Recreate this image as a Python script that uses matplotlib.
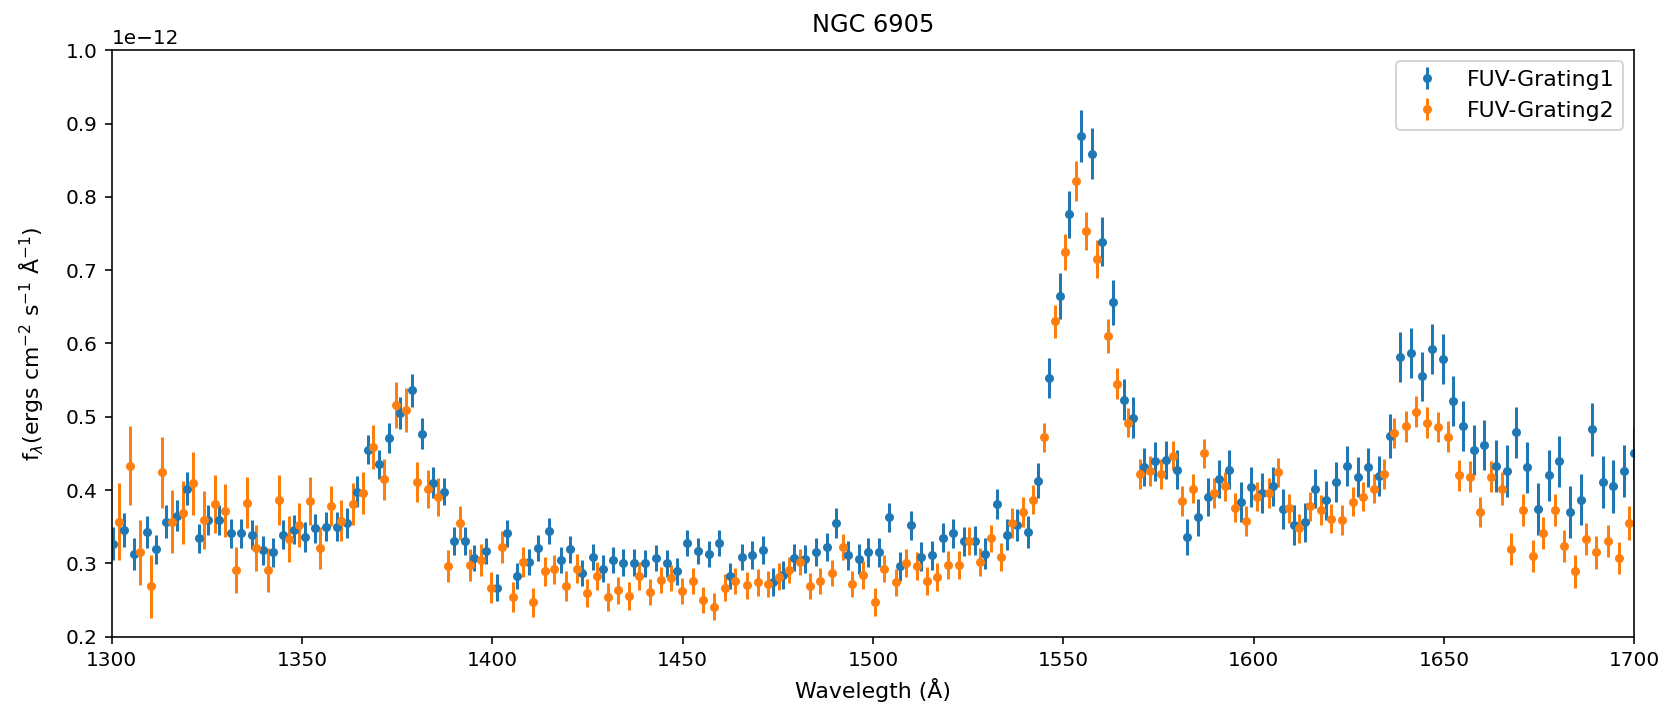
import numpy as np
import matplotlib
matplotlib.use('Agg')
import matplotlib.pyplot as plt

# FUV-Grating1 (flux in units of 1e-12)
g1_wave = [1300.3, 1303.2, 1305.9, 1309.2, 1311.6, 1314.3, 1317.1, 1319.9, 1322.8, 1325.4,
           1328.3, 1331.3, 1334.0, 1336.8, 1339.7, 1342.3, 1344.9, 1348.0, 1350.8, 1353.4,
           1356.2, 1359.1, 1361.9, 1364.5, 1367.4, 1370.3, 1372.9, 1375.7, 1378.8, 1381.5,
           1384.3, 1387.4, 1389.9, 1392.8, 1395.3, 1398.3, 1401.3, 1403.8, 1406.6, 1409.6,
           1412.1, 1415.0, 1418.0, 1420.4, 1423.5, 1426.4, 1429.0, 1431.8, 1434.4, 1437.3,
           1440.1, 1443.0, 1445.8, 1448.6, 1451.2, 1454.1, 1457.0, 1459.6, 1462.5, 1465.5,
           1468.2, 1471.0, 1473.7, 1476.3, 1479.3, 1482.2, 1485.0, 1487.9, 1490.3, 1493.3,
           1496.2, 1498.8, 1501.7, 1504.2, 1507.1, 1509.9, 1512.6, 1515.6, 1518.5, 1521.0,
           1523.9, 1526.8, 1529.5, 1532.5, 1535.3, 1537.9, 1540.8, 1543.3, 1546.3, 1549.2,
           1551.6, 1554.6, 1557.6, 1560.1, 1563.0, 1566.0, 1568.4, 1571.2, 1574.1, 1576.9,
           1579.8, 1582.4, 1585.3, 1588.1, 1590.8, 1593.6, 1596.6, 1599.3, 1602.2, 1605.0,
           1607.6, 1610.5, 1613.4, 1616.2, 1619.0, 1621.6, 1624.5, 1627.3, 1630.0, 1632.8,
           1635.7, 1638.5, 1641.3, 1644.2, 1646.8, 1649.7, 1652.5, 1655.1, 1658.0, 1660.6,
           1663.6, 1666.5, 1668.9, 1671.9, 1674.8, 1677.5, 1680.3, 1683.2, 1686.0, 1688.9,
           1691.8, 1694.4, 1697.2, 1699.8]
g1_flux = [0.327, 0.346, 0.313, 0.343, 0.319, 0.357, 0.365, 0.402, 0.334, 0.359,
           0.359, 0.341, 0.341, 0.339, 0.318, 0.315, 0.339, 0.346, 0.336, 0.348,
           0.350, 0.350, 0.355, 0.398, 0.455, 0.435, 0.471, 0.505, 0.536, 0.477,
           0.410, 0.398, 0.331, 0.331, 0.307, 0.317, 0.267, 0.341, 0.283, 0.302,
           0.321, 0.344, 0.305, 0.319, 0.287, 0.309, 0.293, 0.305, 0.301, 0.301,
           0.300, 0.307, 0.300, 0.289, 0.328, 0.317, 0.313, 0.328, 0.283, 0.309,
           0.311, 0.318, 0.275, 0.284, 0.308, 0.306, 0.315, 0.322, 0.355, 0.311,
           0.306, 0.315, 0.315, 0.363, 0.296, 0.352, 0.309, 0.311, 0.335, 0.341,
           0.330, 0.331, 0.313, 0.381, 0.339, 0.352, 0.343, 0.413, 0.553, 0.665,
           0.776, 0.883, 0.859, 0.739, 0.656, 0.523, 0.499, 0.431, 0.439, 0.441,
           0.428, 0.336, 0.363, 0.391, 0.415, 0.428, 0.384, 0.404, 0.396, 0.405,
           0.374, 0.352, 0.356, 0.402, 0.386, 0.411, 0.433, 0.418, 0.431, 0.419,
           0.474, 0.582, 0.587, 0.555, 0.593, 0.579, 0.522, 0.487, 0.455, 0.462,
           0.433, 0.426, 0.479, 0.431, 0.374, 0.420, 0.439, 0.370, 0.387, 0.483,
           0.411, 0.405, 0.426, 0.450]
g1_err = [0.023, 0.023, 0.022, 0.022, 0.020, 0.022, 0.021, 0.023, 0.020, 0.020,
          0.020, 0.020, 0.020, 0.020, 0.020, 0.020, 0.020, 0.020, 0.020, 0.020,
          0.020, 0.020, 0.020, 0.021, 0.020, 0.020, 0.021, 0.022, 0.022, 0.021,
          0.021, 0.019, 0.019, 0.019, 0.018, 0.018, 0.018, 0.018, 0.018, 0.018,
          0.018, 0.018, 0.018, 0.018, 0.018, 0.018, 0.018, 0.018, 0.018, 0.018,
          0.018, 0.018, 0.018, 0.018, 0.018, 0.018, 0.018, 0.018, 0.018, 0.018,
          0.019, 0.019, 0.019, 0.019, 0.019, 0.019, 0.019, 0.019, 0.020, 0.020,
          0.020, 0.020, 0.020, 0.020, 0.020, 0.020, 0.020, 0.020, 0.020, 0.020,
          0.020, 0.020, 0.021, 0.021, 0.021, 0.022, 0.022, 0.024, 0.027, 0.031,
          0.032, 0.035, 0.035, 0.033, 0.031, 0.028, 0.028, 0.026, 0.026, 0.026,
          0.026, 0.024, 0.025, 0.026, 0.026, 0.027, 0.027, 0.027, 0.027, 0.027,
          0.027, 0.027, 0.027, 0.027, 0.027, 0.027, 0.027, 0.027, 0.027, 0.027,
          0.030, 0.034, 0.034, 0.034, 0.034, 0.034, 0.034, 0.034, 0.034, 0.034,
          0.035, 0.035, 0.035, 0.035, 0.035, 0.035, 0.035, 0.035, 0.035, 0.036,
          0.036, 0.036, 0.036, 0.036]

# FUV-Grating2
g2_wave = [1301.9, 1304.8, 1307.3, 1310.2, 1313.1, 1315.8, 1318.7, 1321.3, 1324.3, 1327.1,
           1329.8, 1332.6, 1335.5, 1337.9, 1341.0, 1344.0, 1346.6, 1349.3, 1352.1, 1354.7,
           1357.6, 1360.2, 1363.4, 1366.1, 1368.7, 1371.6, 1374.7, 1377.2, 1380.1, 1383.0,
           1385.6, 1388.4, 1391.5, 1394.1, 1396.9, 1399.6, 1402.5, 1405.4, 1408.0, 1410.8,
           1413.7, 1416.3, 1419.3, 1422.2, 1424.8, 1427.6, 1430.5, 1433.1, 1436.0, 1438.6,
           1441.4, 1444.3, 1447.0, 1449.9, 1452.8, 1455.4, 1458.3, 1461.1, 1463.8, 1466.8,
           1469.7, 1472.5, 1475.3, 1477.8, 1480.7, 1483.5, 1486.1, 1489.2, 1492.1, 1494.6,
           1497.5, 1500.4, 1503.0, 1506.0, 1508.7, 1511.5, 1514.3, 1516.9, 1519.8, 1522.7,
           1525.3, 1528.2, 1531.0, 1533.7, 1536.6, 1539.5, 1542.0, 1544.9, 1547.9, 1550.5,
           1553.4, 1555.9, 1558.8, 1561.7, 1564.2, 1567.1, 1570.2, 1572.8, 1575.7, 1578.7,
           1581.2, 1584.1, 1587.0, 1589.7, 1592.6, 1595.2, 1598.1, 1600.9, 1603.9, 1606.4,
           1609.4, 1612.0, 1614.9, 1617.7, 1620.3, 1623.2, 1626.2, 1628.7, 1631.5, 1634.3,
           1637.0, 1640.0, 1642.7, 1645.5, 1648.3, 1651.0, 1654.0, 1656.9, 1659.4, 1662.4,
           1665.2, 1667.7, 1670.7, 1673.4, 1676.1, 1679.2, 1681.6, 1684.5, 1687.4, 1690.0,
           1693.1, 1696.1, 1698.6]
g2_flux = [0.357, 0.433, 0.315, 0.269, 0.424, 0.357, 0.369, 0.409, 0.359, 0.381,
           0.372, 0.291, 0.383, 0.321, 0.291, 0.387, 0.333, 0.352, 0.385, 0.321,
           0.378, 0.358, 0.381, 0.396, 0.459, 0.415, 0.516, 0.509, 0.411, 0.401,
           0.390, 0.296, 0.355, 0.298, 0.305, 0.267, 0.322, 0.254, 0.302, 0.247,
           0.289, 0.292, 0.269, 0.293, 0.260, 0.283, 0.254, 0.263, 0.256, 0.283,
           0.261, 0.277, 0.280, 0.262, 0.276, 0.250, 0.241, 0.267, 0.276, 0.270,
           0.274, 0.272, 0.282, 0.291, 0.302, 0.269, 0.276, 0.287, 0.322, 0.272,
           0.284, 0.247, 0.293, 0.274, 0.300, 0.296, 0.276, 0.281, 0.298, 0.298,
           0.330, 0.302, 0.334, 0.309, 0.355, 0.370, 0.387, 0.472, 0.630, 0.725,
           0.822, 0.754, 0.715, 0.610, 0.545, 0.492, 0.422, 0.426, 0.422, 0.447,
           0.385, 0.402, 0.450, 0.396, 0.405, 0.376, 0.358, 0.391, 0.396, 0.424,
           0.375, 0.348, 0.378, 0.373, 0.361, 0.359, 0.384, 0.391, 0.402, 0.422,
           0.478, 0.487, 0.507, 0.492, 0.486, 0.473, 0.420, 0.418, 0.370, 0.418,
           0.402, 0.320, 0.373, 0.310, 0.341, 0.373, 0.324, 0.289, 0.333, 0.315,
           0.331, 0.307, 0.355]
g2_err = [0.052, 0.054, 0.044, 0.043, 0.048, 0.043, 0.043, 0.043, 0.040, 0.040,
          0.036, 0.031, 0.035, 0.031, 0.030, 0.034, 0.031, 0.030, 0.033, 0.028,
          0.027, 0.028, 0.028, 0.029, 0.030, 0.028, 0.031, 0.030, 0.027, 0.026,
          0.026, 0.022, 0.023, 0.022, 0.022, 0.021, 0.022, 0.020, 0.021, 0.020,
          0.020, 0.020, 0.020, 0.020, 0.019, 0.019, 0.019, 0.019, 0.019, 0.019,
          0.018, 0.018, 0.018, 0.018, 0.018, 0.018, 0.018, 0.018, 0.018, 0.018,
          0.018, 0.018, 0.018, 0.018, 0.018, 0.018, 0.018, 0.018, 0.018, 0.018,
          0.019, 0.019, 0.019, 0.019, 0.019, 0.019, 0.019, 0.019, 0.019, 0.019,
          0.019, 0.019, 0.019, 0.019, 0.020, 0.020, 0.020, 0.020, 0.023, 0.025,
          0.027, 0.026, 0.026, 0.023, 0.021, 0.020, 0.020, 0.020, 0.020, 0.020,
          0.020, 0.020, 0.020, 0.020, 0.020, 0.020, 0.020, 0.020, 0.020, 0.020,
          0.020, 0.020, 0.020, 0.020, 0.020, 0.020, 0.020, 0.020, 0.020, 0.020,
          0.021, 0.021, 0.021, 0.021, 0.021, 0.021, 0.021, 0.021, 0.021, 0.021,
          0.022, 0.022, 0.022, 0.022, 0.022, 0.022, 0.022, 0.022, 0.022, 0.022,
          0.022, 0.022, 0.023]

scale = 1e-12

fig = plt.figure(figsize=(1680 / 144, 714 / 144), dpi=144)
ax = fig.add_axes([0.0665, 0.1083, 0.9063, 0.8213])

ax.errorbar(g1_wave, np.array(g1_flux) * scale, yerr=np.array(g1_err) * scale,
            fmt='o', markersize=3.5, label='FUV-Grating1')
ax.errorbar(g2_wave, np.array(g2_flux) * scale, yerr=np.array(g2_err) * scale,
            fmt='o', markersize=3.5, label='FUV-Grating2')

ax.set_xlim(1300, 1700)
ax.set_ylim(0.2e-12, 1.0e-12)
ax.set_title('NGC 6905', fontsize=12, pad=9)
ax.set_xlabel('Wavelegth (Å)', fontsize=11)
ax.set_ylabel(r'f$_\lambda$(ergs cm$^{-2}$ s$^{-1}$ Å$^{-1}$)', fontsize=11,
              labelpad=10)
ax.legend(loc='upper right', fontsize=11)

fig.savefig('out.png', dpi=144)
